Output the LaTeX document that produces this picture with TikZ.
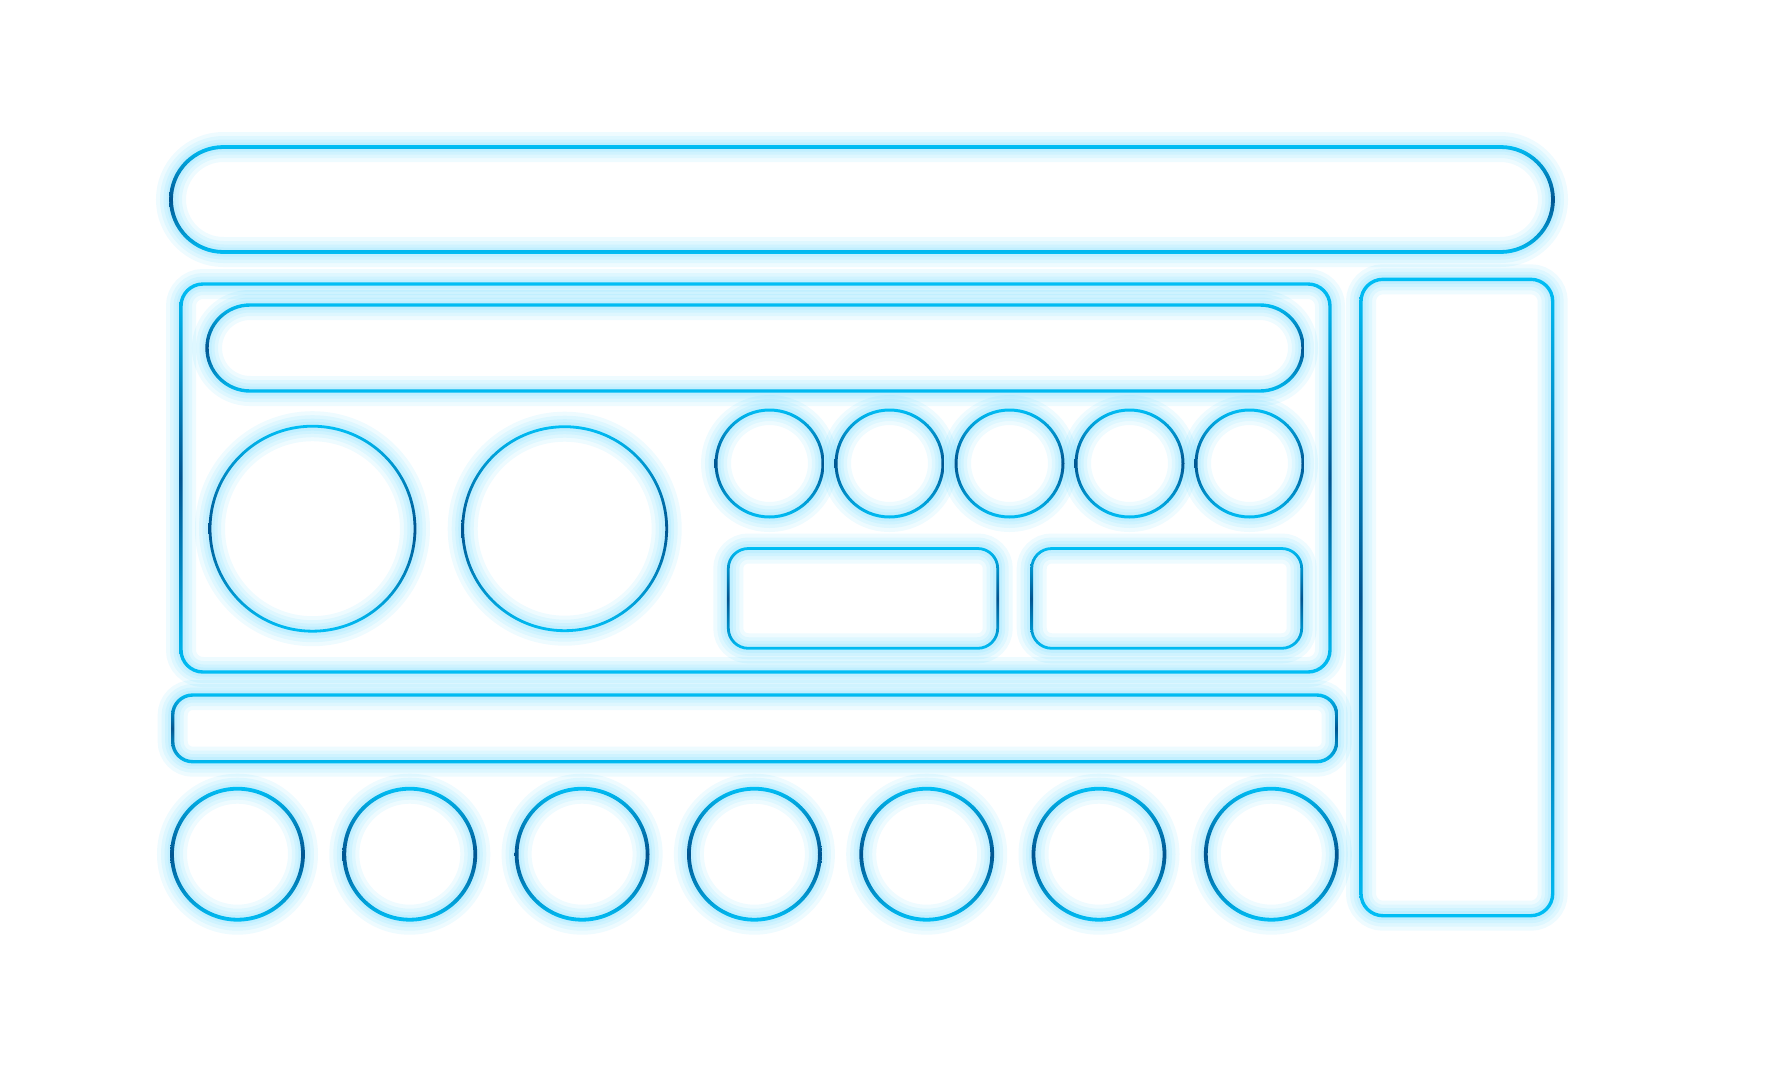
\documentclass[tikz,border=0pt]{standalone}
\definecolor{cy}{RGB}{0,190,245}
\definecolor{dk}{RGB}{0,85,145}
\definecolor{glowc}{RGB}{0,195,255}
\tikzset{
  glowlayer/.style={draw=glowc, opacity=0.065, line width=#1},
  stk/.style={top color=cy, bottom color=cy, middle color=dk, even odd rule},
}
% all shapes: \rr{x1}{y1}{x2}{y2}{corner radius}{line width}, \cc{cx}{cy}{r}{line width}
\newcommand\allshapes{%
  \rr{171}{147}{1553}{252}{52.5}{3.8}% top pill
  \rr{181}{284}{1330}{672}{22}{3.4}% main panel
  \rr{207}{305}{1303}{391}{43}{3.4}% inner pill
  \cc{312.5}{528.7}{102.5}{2.8}% big circle 1
  \cc{564.7}{528.7}{102}{2.8}% big circle 2
  \foreach \i in {0,...,4}{\pgfmathsetmacro\cxx{769.5+120*\i}\cc{\cxx}{463.5}{53.5}{3.0}}% small circles
  \rr{728.3}{548.5}{997.7}{648.3}{20}{2.8}% small rect 1
  \rr{1031.7}{548.5}{1301.7}{648.3}{20}{2.8}% small rect 2
  \rr{172.7}{695}{1336.7}{761.7}{20}{3.4}% bottom bar
  \foreach \i in {0,...,6}{\pgfmathsetmacro\cxx{237.5+172.3*\i}\cc{\cxx}{854.2}{65.5}{3.8}}% bottom circles
  \rr{1361}{279.3}{1552.7}{915.7}{22}{3.4}% right tall rect
}
\newcommand\glowpass{%
  \def\rr##1##2##3##4##5##6{\foreach \gw in {30,22,15,9}{\draw[glowlayer=\gw pt, rounded corners=##5pt] (##1,##2) rectangle (##3,##4);}}%
  \def\cc##1##2##3##4{\foreach \gw in {30,22,15,9}{\draw[glowlayer=\gw pt] (##1,##2) circle[radius=##3];}}%
  \allshapes
}
\newcommand\strokepass{%
  \def\rr##1##2##3##4##5##6{%
    \pgfmathsetmacro\hw{##6/2}\pgfmathsetmacro\ro{##5+\hw}\pgfmathsetmacro\ri{##5-\hw}%
    \shade[stk] [rounded corners=\ro pt] (##1-\hw,##2-\hw) rectangle (##3+\hw,##4+\hw)
      [rounded corners=\ri pt] (##1+\hw,##2+\hw) rectangle (##3-\hw,##4-\hw);}%
  \def\cc##1##2##3##4{%
    \pgfmathsetmacro\hw{##4/2}%
    \shade[stk] (##1,##2) circle[radius=##3+\hw] (##1,##2) circle[radius=##3-\hw];}%
  \allshapes
}
\begin{document}
\begin{tikzpicture}[x=1pt,y=-1pt]
\useasboundingbox[fill=white] (0,0) rectangle (1775,1092);
\glowpass
\strokepass
\end{tikzpicture}
\end{document}
